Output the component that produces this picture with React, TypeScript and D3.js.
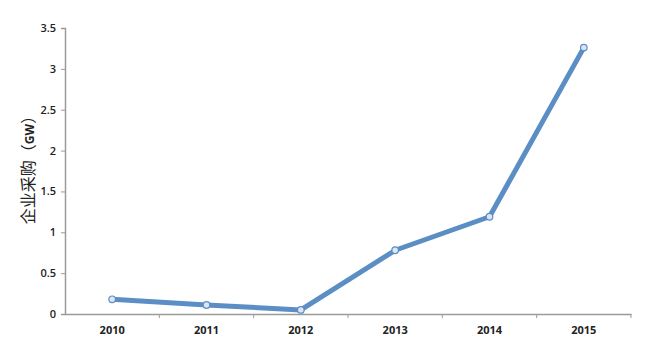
import React, { useRef, useEffect } from 'react';
import * as d3 from 'd3';

const years = ['2010', '2011', '2012', '2013', '2014', '2015'];
const purchaseGW = [0.18, 0.11, 0.05, 0.78, 1.19, 3.26];
const yTicks = [0, 0.5, 1, 1.5, 2, 2.5, 3, 3.5];

export default function App() {
    const ref = useRef<SVGSVGElement>(null);

    useEffect(() => {
        const svg = d3.select(ref.current);
        svg.selectAll('*').remove();
        const width = 652, height = 353;
        const margin = { top: 28, right: 21, bottom: 39, left: 65 };

        const x = d3.scaleBand().domain(years).range([margin.left, width - margin.right]);
        const y = d3.scaleLinear().domain([0, 3.5]).range([height - margin.bottom, margin.top]);

        // y axis
        const yAxis = svg.append('g')
            .attr('transform', `translate(${margin.left},0)`)
            .call(d3.axisLeft(y).tickValues(yTicks).tickFormat(d3.format('')).tickSize(4));
        yAxis.select('.domain').attr('stroke', '#9a9a9a').attr('stroke-width', 1.5);
        yAxis.selectAll('.tick line').attr('stroke', '#9a9a9a');
        yAxis.selectAll('.tick text')
            .attr('x', -9)
            .attr('font-family', 'Open Sans, sans-serif')
            .attr('font-size', 11)
            .attr('font-weight', 600)
            .attr('fill', '#222');

        // x axis
        const xAxis = svg.append('g')
            .attr('transform', `translate(0,${y(0)})`)
            .call(d3.axisBottom(x).tickSize(0).tickPadding(12));
        xAxis.select('.domain').attr('stroke', '#9a9a9a').attr('stroke-width', 1.5);
        xAxis.selectAll('.tick text')
            .attr('font-family', 'Open Sans, sans-serif')
            .attr('font-size', 11)
            .attr('font-weight', 700)
            .attr('fill', '#222');
        // category boundary ticks
        svg.append('g').selectAll('line')
            .data(years)
            .join('line')
            .attr('x1', (d, i) => x(years[0])! + x.bandwidth() * (i + 1))
            .attr('x2', (d, i) => x(years[0])! + x.bandwidth() * (i + 1))
            .attr('y1', y(0))
            .attr('y2', y(0) + 4)
            .attr('stroke', '#9a9a9a');

        // y label
        svg.append('text')
            .attr('transform', `translate(34,166) rotate(-90)`)
            .attr('text-anchor', 'middle')
            .attr('font-size', 16)
            .attr('fill', '#222')
            .call(t => {
                t.append('tspan').attr('font-family', 'Noto Sans CJK SC, serif').text('企业采购（');
                t.append('tspan').attr('font-family', 'Open Sans, sans-serif').attr('font-weight', 700).attr('font-size', 12).text('GW');
                t.append('tspan').attr('font-family', 'Noto Sans CJK SC, serif').text('）');
            });

        const cx = (d: string) => x(d)! + x.bandwidth() / 2;
        const line = d3.line<number>()
            .x((d, i) => cx(years[i]))
            .y(d => y(d));

        svg.append('path')
            .datum(purchaseGW)
            .attr('d', line)
            .attr('fill', 'none')
            .attr('stroke', '#5b8ec4')
            .attr('stroke-width', 5)
            .attr('stroke-linejoin', 'round');

        svg.append('g').selectAll('circle')
            .data(purchaseGW)
            .join('circle')
            .attr('cx', (d, i) => cx(years[i]))
            .attr('cy', d => y(d))
            .attr('r', 3.3)
            .attr('fill', '#dce6f2')
            .attr('stroke', '#5b8ec4')
            .attr('stroke-width', 1.2);
    }, []);

    return (
        <svg ref={ref} width={652} height={353}
            style={{ position: 'absolute', left: 0, top: 0, background: '#fff' }} />
    );
}
